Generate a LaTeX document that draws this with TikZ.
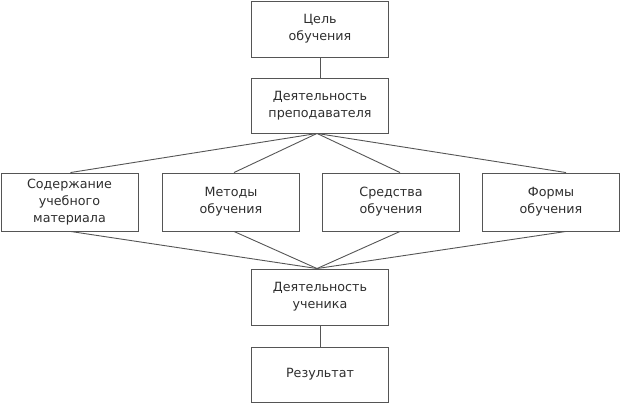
\documentclass[tikz,border=0pt]{standalone}
\usepackage{fontspec}
\setmainfont{DejaVu Sans}
\usepackage{xcolor}
\usepackage{tikz}
\definecolor{linegray}{HTML}{555555}
\definecolor{textgray}{HTML}{2E2E2E}
\tikzset{
    block/.style={draw=linegray,line width=0.9pt,rectangle,inner sep=0pt,
        minimum width=137pt,align=center,text=textgray,
        font=\fontsize{12.7}{17}\selectfont},
    link/.style={draw=linegray,line width=0.9pt}
}

\begin{document}
\begin{tikzpicture}[x=1pt,y=-1pt]
    \useasboundingbox (0,0) rectangle (622,404);
    \node[block,minimum height=56pt] (1) at (320,29) {Цель\\обучения};
    \node[block,minimum height=55pt] (2) at (320,105.5) {Деятельность\\преподавателя};
    \node[block,minimum height=58pt] (3) at (69.5,202) {Содержание\\учебного\\материала};
    \node[block,minimum height=58pt] (4) at (231,202) {Методы\\обучения};
    \node[block,minimum height=58pt] (5) at (391,202) {Средства\\обучения};
    \node[block,minimum height=58pt] (6) at (551,202) {Формы\\обучения};
    \node[block,minimum height=56pt] (7) at (320,297) {Деятельность\\ученика};
    \node[block,minimum height=55pt] (8) at (320,374.5) {Результат};
    \coordinate (2s) at ([xshift=-3pt]2.south);
    \coordinate (7n) at ([xshift=-3pt]7.north);
    \draw[link] (1) -- (2);
    \draw[link] (7) -- (8);
    \draw[link] (2s) -- ([xshift=1pt]3.north);
    \draw[link] (2s) -- ([xshift=3pt]4.north);
    \draw[link] (2s) -- ([xshift=9pt]5.north);
    \draw[link] (2s) -- ([xshift=15pt]6.north);
    \draw[link] (7n) -- ([xshift=1pt]3.south);
    \draw[link] (7n) -- ([xshift=3pt]4.south);
    \draw[link] (7n) -- ([xshift=9pt]5.south);
    \draw[link] (7n) -- ([xshift=15pt]6.south);
\end{tikzpicture}
\end{document}
